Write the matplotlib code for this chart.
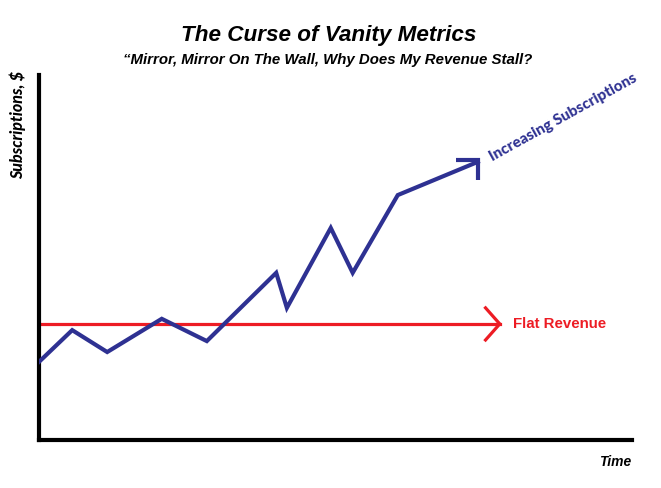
import matplotlib.pyplot as plt
import numpy as np

# data (axes units 0-100)
time = [0, 5.6, 11.5, 20.7, 28.3, 40.0, 41.8, 49.2, 52.9, 60.5, 74.0]
subscriptions = [21.4, 30.1, 24.1, 33.2, 27.1, 45.8, 36.2, 58.1, 45.8, 67.1, 76.2]
revenue_x = [0, 77.7]
revenue_y = [31.8, 31.8]

BLUE = "#2e3192"
RED = "#ed1c24"


def main():
    fig = plt.figure(figsize=(6.61, 4.88), dpi=100)
    ax = fig.add_axes([39 / 661, 48 / 488, 593 / 661, 365 / 488])
    ax.set_xlim(0, 100)
    ax.set_ylim(0, 100)

    ax.plot(time, subscriptions, color=BLUE, lw=3, solid_joinstyle="miter", zorder=3)
    # arrow head on subscriptions (horizontal + vertical arms)
    ex, ey = time[-1], subscriptions[-1]
    ax.plot([ex - 3.7, ex, ex], [ey + 0.5, ey + 0.5, ey - 5.0], color=BLUE, lw=3,
            solid_joinstyle="miter", solid_capstyle="butt", zorder=3)

    ax.plot(revenue_x, revenue_y, color=RED, lw=2.3, zorder=2)
    rx, ry = revenue_x[-1], revenue_y[-1]
    ax.plot([rx - 2.4, rx, rx - 2.4], [ry + 4.4, ry, ry - 4.4], color=RED, lw=2.3,
            solid_joinstyle="miter", zorder=2)

    for s in ["top", "right"]:
        ax.spines[s].set_visible(False)
    for s in ["left", "bottom"]:
        ax.spines[s].set_linewidth(3)
        ax.spines[s].set_color("black")
    ax.set_xticks([])
    ax.set_yticks([])

    ax.text(80.0, revenue_y[0], "Flat Revenue", color=RED, fontsize=10.8, fontweight="bold",
            family="Liberation Sans", va="center", ha="left")
    ax.text(76.8, 75.5, "Increasing Subscriptions", color=BLUE, fontsize=11,
            fontweight=900, family="Lato", rotation=29, rotation_mode="anchor",
            ha="left", va="bottom")

    fig.text(329 / 661, 1 - 35 / 488, "The Curse of Vanity Metrics", fontsize=16.2,
             fontweight="bold", style="italic", family="Liberation Sans", ha="center", va="center")
    fig.text(328 / 661, 1 - 60 / 488, "\u201cMirror, Mirror On The Wall, Why Does My Revenue Stall?",
             fontsize=10.8, fontweight="bold", style="italic", family="Liberation Sans",
             ha="center", va="center")
    fig.text(18 / 661, 1 - 71 / 488, "Subscriptions, $", fontsize=11.5, fontweight=900,
             style="italic", family="Lato", rotation=90, ha="center", va="top")
    fig.text(615 / 661, 1 - 462 / 488, "Time", fontsize=10, fontweight="bold",
             style="italic", family="Liberation Sans", ha="center", va="center")

    fig.savefig("out.png", dpi=100)


if __name__ == "__main__":
    main()
